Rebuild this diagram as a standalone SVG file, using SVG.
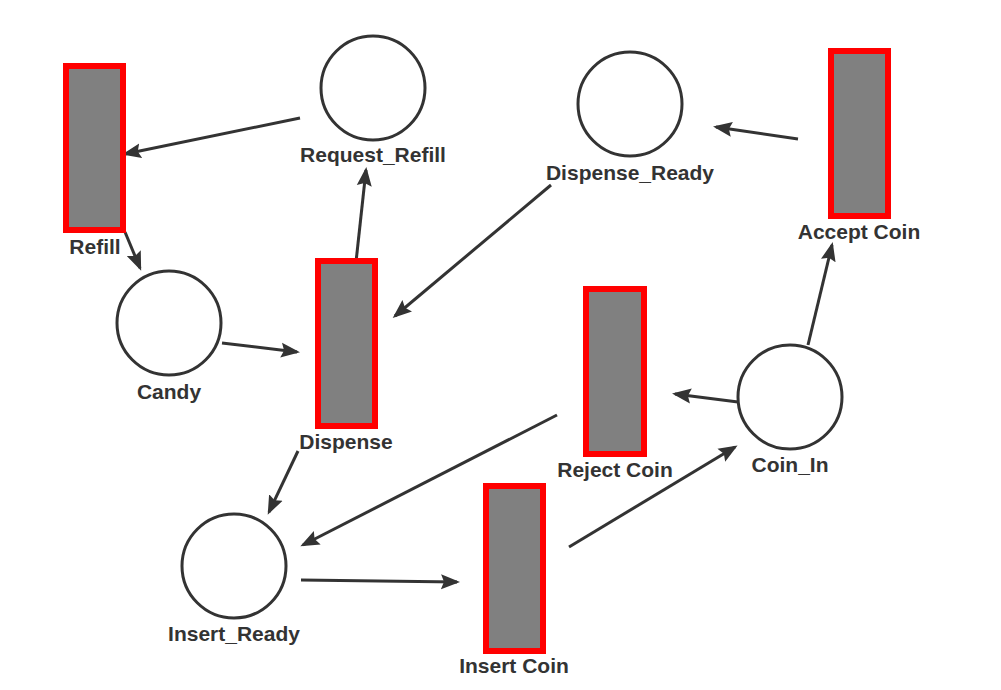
<svg xmlns="http://www.w3.org/2000/svg" width="1001" height="690" viewBox="0 0 1001 690">
<style>
.place{fill:#fff;stroke:#333;stroke-width:3}
.trans{fill:#808080;stroke:#f00;stroke-width:6}
.lbl{font-family:"Liberation Sans",Arial,sans-serif;font-weight:bold;font-size:21px;fill:#333;text-anchor:middle}
.edge{stroke:#333;stroke-width:3;fill:none;marker-end:url(#ah)}
</style>
<defs>
<marker id="ah" markerUnits="userSpaceOnUse" markerWidth="20" markerHeight="16" refX="16" refY="8" orient="auto" viewBox="0 0 20 16">
<path d="M0,0.5 L19,8 L0,15.5 L3,8 z" fill="#333"/>
</marker>
</defs>
<rect width="1001" height="690" fill="#fff"/>
<g id="connectors">
<line class="edge" x1="300" y1="118" x2="125" y2="154"/>
<line class="edge" x1="125" y1="232" x2="140" y2="268"/>
<line class="edge" x1="222" y1="343" x2="297" y2="352"/>
<line class="edge" x1="356" y1="262" x2="366" y2="170"/>
<line class="edge" x1="551" y1="185" x2="395" y2="316"/>
<line class="edge" x1="798" y1="139" x2="716" y2="127"/>
<line class="edge" x1="808" y1="345" x2="832" y2="245"/>
<line class="edge" x1="738" y1="402" x2="675" y2="394"/>
<line class="edge" x1="557" y1="415" x2="303" y2="545"/>
<line class="edge" x1="298" y1="451" x2="269" y2="512"/>
<line class="edge" x1="301" y1="580" x2="457" y2="582"/>
<line class="edge" x1="569" y1="547" x2="735" y2="447"/>
</g>
<g id="Refill"><rect class="trans" x="66" y="66" width="57" height="164"/><text class="lbl" x="95" y="254">Refill</text></g>
<g id="Dispense"><rect class="trans" x="318" y="261" width="57" height="165"/><text class="lbl" x="346" y="449">Dispense</text></g>
<g id="RejectCoin"><rect class="trans" x="586" y="289" width="58" height="165"/><text class="lbl" x="615" y="477">Reject Coin</text></g>
<g id="InsertCoin"><rect class="trans" x="486" y="486" width="57" height="165"/><text class="lbl" x="514" y="673">Insert Coin</text></g>
<g id="AcceptCoin"><rect class="trans" x="831" y="51" width="57" height="165"/><text class="lbl" x="859" y="239">Accept Coin</text></g>
<g id="Request_Refill"><circle class="place" cx="373" cy="88" r="52"/><text class="lbl" x="373" y="162">Request_Refill</text></g>
<g id="Dispense_Ready"><circle class="place" cx="630" cy="104" r="52"/><text class="lbl" x="630" y="180">Dispense_Ready</text></g>
<g id="Candy"><circle class="place" cx="169" cy="323" r="52"/><text class="lbl" x="169" y="399">Candy</text></g>
<g id="Coin_In"><circle class="place" cx="790" cy="397" r="52"/><text class="lbl" x="790" y="472">Coin_In</text></g>
<g id="Insert_Ready"><circle class="place" cx="234" cy="566" r="52"/><text class="lbl" x="234" y="641">Insert_Ready</text></g>
</svg>
